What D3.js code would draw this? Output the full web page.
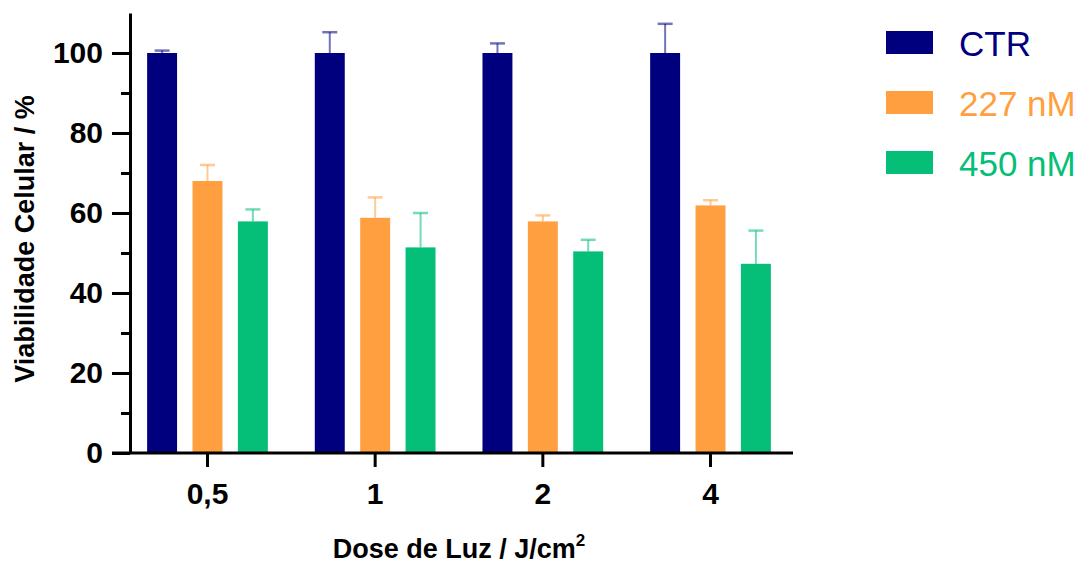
<!DOCTYPE html>
<html>
<head>
<meta charset="utf-8">
<script src="https://cdn.jsdelivr.net/npm/d3@7"></script>
<style>
  body { margin: 0; background: #fff; }
  text { font-family: "Liberation Sans", Arial, sans-serif; }
</style>
</head>
<body>
<div id="chart"></div>
<script>
// dados
var doses = ["0,5", "1", "2", "4"];
var series = ["CTR", "227 nM", "450 nM"];
var colors = ["#00007f", "#ff9f40", "#05be78"];
var ctrMean = [100, 100, 100, 100];
var ctrErr = [0.6, 5.2, 2.4, 7.3];
var nM227Mean = [68, 58.8, 57.9, 61.9];
var nM227Err = [4, 5.1, 1.5, 1.3];
var nM450Mean = [57.9, 51.4, 50.4, 47.3];
var nM450Err = [3, 8.6, 2.9, 8.3];
var yTicks = [0, 20, 40, 60, 80, 100];
var yMinor = [10, 30, 50, 70, 90];

var means = [ctrMean, nM227Mean, nM450Mean];
var errs = [ctrErr, nM227Err, nM450Err];

var W = 1090, H = 565;
var axisX = 130, axisRight = 793, y0 = 453, yTop = 13;

var svg = d3.select("#chart").append("svg")
    .attr("width", W)
    .attr("height", H);

var x = d3.scaleBand().domain(doses).range([127, 791])
    .paddingInner(0.28).paddingOuter(0.12);
var xSub = d3.scaleBand().domain(series).range([0, x.bandwidth()])
    .paddingInner(0.34).paddingOuter(0);
var y = d3.scaleLinear().domain([0, 110]).range([y0, yTop]);

// barras
series.forEach(function (s, i) {
    var g = svg.append("g");
    var data = doses.map(function (d, j) { return { dose: d, v: means[i][j], e: errs[i][j] }; });
    // barras de erro (só para cima)
    g.selectAll("line.err").data(data).enter().append("line")
        .attr("x1", d => x(d.dose) + xSub(s) + xSub.bandwidth() / 2)
        .attr("x2", d => x(d.dose) + xSub(s) + xSub.bandwidth() / 2)
        .attr("y1", d => y(d.v))
        .attr("y2", d => y(d.v + d.e))
        .attr("stroke", colors[i]).attr("stroke-opacity", 0.55).attr("stroke-width", 2);
    g.selectAll("line.cap").data(data).enter().append("line")
        .attr("x1", d => x(d.dose) + xSub(s) + xSub.bandwidth() / 2 - 7.5)
        .attr("x2", d => x(d.dose) + xSub(s) + xSub.bandwidth() / 2 + 7.5)
        .attr("y1", d => y(d.v + d.e))
        .attr("y2", d => y(d.v + d.e))
        .attr("stroke", colors[i]).attr("stroke-opacity", 0.55).attr("stroke-width", 2.5);
    g.selectAll("rect").data(data).enter().append("rect")
        .attr("x", d => x(d.dose) + xSub(s))
        .attr("width", xSub.bandwidth())
        .attr("y", d => y(d.v))
        .attr("height", d => y0 - y(d.v))
        .attr("fill", colors[i]);
});

// eixo Y
var yAxis = svg.append("g")
    .attr("transform", "translate(" + axisX + ",0)")
    .call(d3.axisLeft(y).tickValues(yTicks).tickSize(18).tickPadding(9).tickSizeOuter(0));
svg.append("g")
    .attr("transform", "translate(" + axisX + ",0)")
    .call(d3.axisLeft(y).tickValues(yMinor).tickSize(9).tickFormat("").tickSizeOuter(0))
    .select(".domain").remove();

// eixo X
var xAxis = svg.append("g")
    .attr("transform", "translate(0," + y0 + ")")
    .call(d3.axisBottom(x).tickSize(14).tickPadding(16).tickSizeOuter(0));
xAxis.select(".domain").attr("d", "M" + (axisX - 18) + ",0H" + axisRight);

svg.selectAll(".domain, .tick line").attr("stroke", "#000").attr("stroke-width", 3);
svg.selectAll(".tick text").attr("fill", "#000")
    .style("font-size", "30px").style("font-weight", "bold")
    .style("font-family", "'Liberation Sans', Arial, sans-serif");

// títulos dos eixos
svg.append("text")
    .attr("transform", "translate(34," + 239 + ") rotate(-90)")
    .attr("text-anchor", "middle")
    .style("font-size", "27px").style("font-weight", "bold")
    .text("Viabilidade Celular / %");

var xt = svg.append("text")
    .attr("x", 459).attr("y", 558)
    .attr("text-anchor", "middle")
    .style("font-size", "27px").style("font-weight", "bold");
xt.append("tspan").text("Dose de Luz / J/cm");
xt.append("tspan").attr("dy", -12).style("font-size", "17px").text("2");

// legenda
var leg = svg.append("g").attr("transform", "translate(886,31)");
series.forEach(function (s, i) {
    var row = leg.append("g").attr("transform", "translate(0," + i * 60 + ")");
    row.append("rect").attr("width", 47).attr("height", 23).attr("fill", colors[i]);
    row.append("text").attr("x", 73).attr("y", 25)
        .attr("fill", colors[i])
        .style("font-size", "35px")
        .text(s);
});
</script>
</body>
</html>
